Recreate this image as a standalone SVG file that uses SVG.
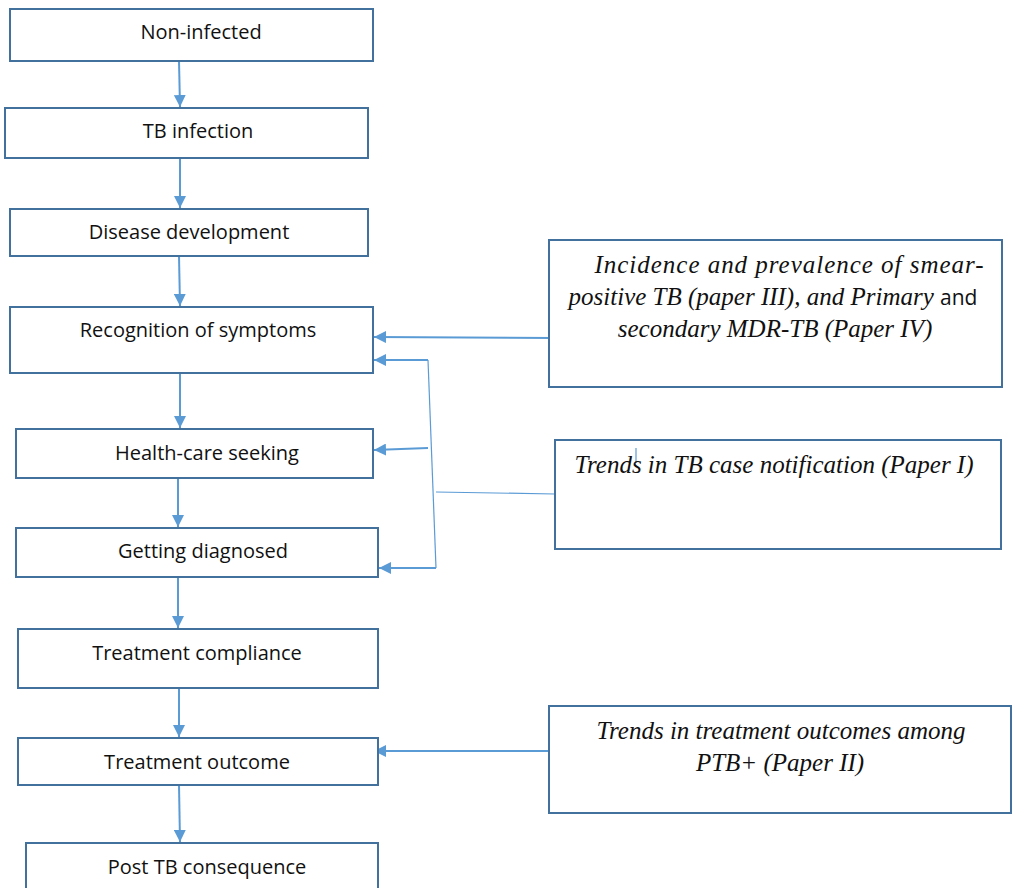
<svg xmlns="http://www.w3.org/2000/svg" width="1012" height="888" viewBox="0 0 1012 888">
<style>
.box{fill:#fff;stroke:#41719C;stroke-width:2}
.lbl{font-family:"Open Sans","Liberation Sans",sans-serif;font-size:20px;fill:#111;text-anchor:middle}
.it{font-family:"Liberation Serif","Times New Roman",serif;font-style:italic;font-size:25px;fill:#111;text-anchor:middle}
.up{font-family:"Open Sans","Liberation Sans",sans-serif;font-style:normal;font-size:21px}
.c{fill:none;stroke:#5B9BD5;stroke-width:2}
.thin{fill:none;stroke:#5B9BD5;stroke-width:1.2}
</style>
<defs>
<marker id="ah" viewBox="0 0 12 12" markerWidth="12" markerHeight="12" refX="12" refY="6" orient="auto" markerUnits="userSpaceOnUse">
<path d="M0,0 L12,6 L0,12 z" fill="#5B9BD5"/>
</marker>
</defs>
<rect width="1012" height="888" fill="#fff"/>
<g id="connectors">
<line class="c" x1="179" y1="61" x2="180" y2="107" marker-end="url(#ah)"/>
<line class="c" x1="180" y1="158" x2="180" y2="208" marker-end="url(#ah)"/>
<line class="c" x1="179" y1="256" x2="180" y2="306" marker-end="url(#ah)"/>
<line class="c" x1="180" y1="373" x2="180" y2="428" marker-end="url(#ah)"/>
<line class="c" x1="178" y1="478" x2="178" y2="527" marker-end="url(#ah)"/>
<line class="c" x1="178" y1="577" x2="178" y2="628" marker-end="url(#ah)"/>
<line class="c" x1="179" y1="688" x2="179" y2="737" marker-end="url(#ah)"/>
<line class="c" x1="179" y1="785" x2="180" y2="842" marker-end="url(#ah)"/>
<line class="c" x1="553" y1="338" x2="374" y2="337" marker-end="url(#ah)"/>
<polyline class="c" points="428,360 374,360" marker-end="url(#ah)"/>
<line class="thin" x1="428" y1="360" x2="436" y2="568"/>
<line class="c" x1="428" y1="448" x2="374" y2="450" marker-end="url(#ah)"/>
<line class="c" x1="436" y1="568" x2="379" y2="568" marker-end="url(#ah)"/>
<line class="thin" x1="436" y1="492" x2="555" y2="494"/>
<line class="c" x1="549" y1="751" x2="374" y2="751" marker-end="url(#ah)"/>
</g>
<g id="n-noninfected"><rect class="box" x="10" y="9" width="363" height="52"/><text class="lbl" x="201" y="39">Non-infected</text></g>
<g id="n-tbinfection"><rect class="box" x="5" y="108" width="363" height="50"/><text class="lbl" x="198" y="138">TB infection</text></g>
<g id="n-disease"><rect class="box" x="10" y="209" width="358" height="47"/><text class="lbl" x="189" y="239">Disease development</text></g>
<g id="n-recognition"><rect class="box" x="10" y="307" width="363" height="66"/><text class="lbl" x="198" y="337">Recognition of symptoms</text></g>
<g id="n-healthcare"><rect class="box" x="16" y="429" width="357" height="49"/><text class="lbl" x="207" y="460">Health-care seeking</text></g>
<g id="n-diagnosed"><rect class="box" x="16" y="528" width="362" height="49"/><text class="lbl" x="203" y="558">Getting diagnosed</text></g>
<g id="n-compliance"><rect class="box" x="18" y="629" width="360" height="59"/><text class="lbl" x="197" y="660">Treatment compliance</text></g>
<g id="n-outcome"><rect class="box" x="18" y="738" width="360" height="47"/><text class="lbl" x="197" y="769">Treatment outcome</text></g>
<g id="n-post"><rect class="box" x="26" y="843" width="352" height="60"/><text class="lbl" x="207" y="874">Post TB consequence</text></g>
<g id="n-incidence"><rect class="box" x="549" y="240" width="453" height="147"/>
<text class="it" x="789" y="273" textLength="389" lengthAdjust="spacing">Incidence and prevalence of smear-</text>
<text class="it" x="773" y="305">positive TB (paper III), and Primary <tspan class="up">and</tspan></text>
<text class="it" x="775" y="337">secondary MDR-TB (Paper IV)</text></g>
<g id="n-notification"><rect class="box" x="555" y="440" width="446" height="109"/>
<line class="thin" x1="636" y1="448" x2="636" y2="463"/>
<text class="it" x="774" y="473">Trends in TB case notification (Paper I)</text></g>
<g id="n-outcomes"><rect class="box" x="549" y="706" width="462" height="107"/>
<text class="it" x="781" y="739">Trends in treatment outcomes among</text>
<text class="it" x="780" y="771">PTB+ (Paper II)</text></g>
</svg>
